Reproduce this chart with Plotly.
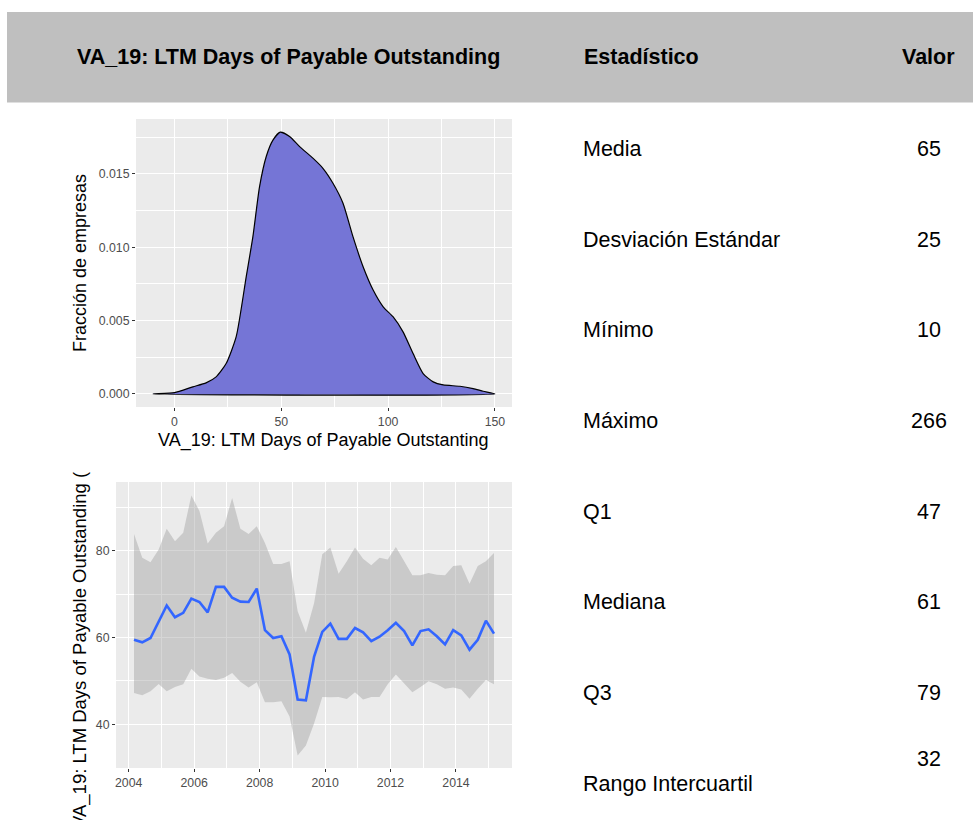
import pandas as pd
import plotly.graph_objects as go

W, H = 973, 820
FONT = "Liberation Sans, Arial, sans-serif"

# ---- density of VA_19 across companies ----
dens_x = [-10, 0, 8.6, 14.8, 19.5, 24.2, 28.9, 33.6, 36.7, 39.8, 43, 46.1, 49.5,
          53.9, 58.6, 64.8, 69.5, 74.2, 78.9, 83.6, 88.3, 93, 97.7, 102.3, 107,
          111.7, 116.4, 121.1, 125.8, 133.6, 139.8, 144.5, 150]
dens_y = [0, 0.00009, 0.00048, 0.00075, 0.00116, 0.00207, 0.0039, 0.0080, 0.0107,
          0.0141, 0.0162, 0.0173, 0.01784, 0.01755, 0.01686, 0.01607, 0.01538,
          0.01436, 0.0130, 0.0107, 0.00867, 0.00708, 0.00594, 0.00526, 0.00423,
          0.00275, 0.00139, 0.00082, 0.00061, 0.00052, 0.00036, 0.00018, 0]
dens_xticks = [0, 50, 100, 150]
dens_yticks = [0.000, 0.005, 0.010, 0.015]

# ---- quarterly evolution: mean and band ----
ts_dates = pd.date_range("2004-03-01", periods=45, freq="3MS")
ts_mean = [59.5, 58.9, 59.9, 63.8, 67.4, 64.7, 65.7, 69.0, 68.2, 65.8, 71.7, 71.7,
           69.2, 68.3, 68.2, 71.3, 61.7, 59.9, 60.3, 56.1, 45.7, 45.5, 55.6, 61.3,
           63.2, 59.7, 59.7, 62.2, 61.2, 59.2, 60.2, 61.7, 63.4, 61.5, 58.2, 61.5,
           61.9, 60.3, 58.4, 61.7, 60.5, 57.2, 59.5, 63.9, 60.9]
ts_upper = [83.9, 78.4, 77.4, 80.3, 85.1, 82.2, 84.2, 92.8, 89.2, 81.7, 84.2, 85.7,
            92.2, 85.1, 83.9, 85.7, 81.8, 77.0, 77.0, 77.6, 66.1, 61.1, 68.0, 79.2,
            80.8, 74.7, 77.6, 80.8, 78.2, 76.7, 78.4, 78.0, 80.9, 77.6, 74.4, 74.4,
            74.9, 74.5, 74.4, 76.5, 76.7, 72.4, 76.5, 77.6, 79.5]
ts_lower = [47.2, 46.7, 47.6, 49.3, 47.6, 48.6, 49.2, 52.8, 51.0, 50.5, 50.2, 50.7,
            51.8, 49.8, 48.5, 49.7, 45.1, 45.1, 45.3, 41.8, 32.8, 35.1, 40.2, 46.3,
            46.2, 46.3, 45.8, 47.4, 45.7, 46.3, 46.3, 49.2, 51.5, 49.5, 47.4, 48.6,
            49.9, 49.2, 48.2, 48.5, 48.0, 45.9, 48.2, 50.2, 49.2]
ts_year_ticks = ["2004", "2006", "2008", "2010", "2012", "2014"]
ts_minor_years = ["2005", "2007", "2009", "2011", "2013", "2015"]
ts_yticks = [40, 60, 80]
ts_yminor = [30, 50, 70, 90]

# ---- summary table ----
header_title = "VA_19: LTM Days of Payable Outstanding"
stat_names = ["Media", "Desviación Estándar", "Mínimo", "Máximo", "Q1",
              "Mediana", "Q3", "Rango Intercuartil"]
stat_values = ["65", "25", "10", "266", "47", "61", "79", "32"]


def px(x):
    return x / W


def py(y):
    return 1 - y / H


fig = go.Figure()

# density polygon (closed along the baseline)
fig.add_trace(go.Scatter(
    x=dens_x + [dens_x[0]], y=dens_y + [dens_y[0]],
    mode="lines", fill="toself", fillcolor="rgb(117,117,214)",
    line=dict(color="black", width=1.2, shape="spline", smoothing=0.6),
    xaxis="x", yaxis="y", hoverinfo="skip", showlegend=False))

# band then mean line
fig.add_trace(go.Scatter(
    x=ts_dates, y=ts_lower, mode="lines", line=dict(width=0),
    xaxis="x2", yaxis="y2", hoverinfo="skip", showlegend=False))
fig.add_trace(go.Scatter(
    x=ts_dates, y=ts_upper, mode="lines", line=dict(width=0),
    fill="tonexty", fillcolor="rgba(153,153,153,0.4)",
    xaxis="x2", yaxis="y2", hoverinfo="skip", showlegend=False))
fig.add_trace(go.Scatter(
    x=ts_dates, y=ts_mean, mode="lines",
    line=dict(color="#3366FF", width=2.6),
    xaxis="x2", yaxis="y2", showlegend=False))

tickfont = dict(family=FONT, size=12.3, color="#4D4D4D")
common = dict(showgrid=True, gridcolor="white", gridwidth=1.1, zeroline=False,
              showline=False, ticks="outside", ticklen=3, tickwidth=1,
              tickcolor="#333333", tickfont=tickfont)
minor_style = dict(showgrid=True, gridcolor="white", gridwidth=0.55, ticks="")

fig.update_layout(
    width=W, height=H, autosize=False,
    margin=dict(l=0, r=0, t=0, b=0),
    paper_bgcolor="white", plot_bgcolor="#EBEBEB",
    xaxis=dict(domain=[px(136), px(512)], range=[-18, 158], anchor="y",
               tickmode="array", tickvals=dens_xticks,
               ticktext=[str(v) for v in dens_xticks],
               minor=dict(tickmode="array", tickvals=[-25, 25, 75, 125], **minor_style),
               **common),
    yaxis=dict(domain=[py(407), py(119)], range=[-0.000893, 0.01874], anchor="x",
               tickmode="array", tickvals=dens_yticks,
               ticktext=[f"{v:.3f}" for v in dens_yticks],
               minor=dict(tickmode="array", tickvals=[0.0025, 0.0075, 0.0125, 0.0175],
                          **minor_style),
               **common),
    xaxis2=dict(domain=[px(116), px(512)], type="date",
                range=["2003-08-13", "2015-09-18"], anchor="y2",
                tickmode="array", tickvals=[f"{y}-01-01" for y in ts_year_ticks],
                ticktext=ts_year_ticks,
                minor=dict(tickmode="array",
                           tickvals=[f"{y}-01-01" for y in ts_minor_years], **minor_style),
                **common),
    yaxis2=dict(domain=[py(768), py(482)], range=[29.9, 95.9], anchor="x2",
                tickmode="array", tickvals=ts_yticks,
                ticktext=[str(v) for v in ts_yticks],
                minor=dict(tickmode="array", tickvals=ts_yminor, **minor_style),
                **common),
)

# header band
fig.add_shape(type="rect", xref="paper", yref="paper",
              x0=px(7), x1=1, y0=py(102.5), y1=py(12),
              fillcolor="#BFBFBF", line=dict(width=0), layer="below")

ann = []


def text(s, x, y, size, xanchor="left", bold=False, angle=0, color="black"):
    ann.append(dict(text=f"<b>{s}</b>" if bold else s, x=px(x), y=py(y),
                    xref="paper", yref="paper", xanchor=xanchor, yanchor="middle",
                    showarrow=False, textangle=angle,
                    font=dict(family=FONT, size=size, color=color)))


text(header_title, 75, 57, 21.5, bold=True)
text("Estadístico", 582, 57, 21.5, bold=True)
text("Valor", 957, 57, 21.5, xanchor="right", bold=True)

row_y = [149, 240, 330, 421, 512, 602, 693, 784]
for name, yy in zip(stat_names, row_y):
    text(name, 581, yy, 21.5)
val_y = row_y[:-1] + [759]
for v, yy in zip(stat_values, val_y):
    text(v, 929, yy, 21.5, xanchor="center")

# axis titles
text("Fracción de empresas", 80, 263, 18, xanchor="center", angle=-90)
text("VA_19: LTM Days of Payable Outstanting", 323, 440, 18, xanchor="center")
text("VA_19: LTM Days of Payable Outstanding (", 80, 650, 18.5, xanchor="center", angle=-90)

fig.update_layout(annotations=ann)

fig.write_html("out.html")
